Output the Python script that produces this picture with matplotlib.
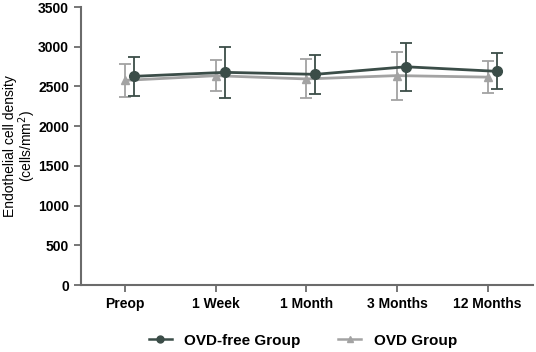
import matplotlib
matplotlib.use("Agg")
import matplotlib.pyplot as plt
from matplotlib.lines import Line2D
import numpy as np

categories = ["Preop", "1 Week", "1 Month", "3 Months", "12 Months"]
ovd_free_mean = [2628, 2678, 2653, 2748, 2691]
ovd_free_sd = [242, 321, 246, 299, 226]
ovd_mean = [2577, 2636, 2595, 2637, 2618]
ovd_sd = [212, 195, 246, 301, 198]

plt.rcParams['font.family'] = ['Liberation Sans', 'DejaVu Sans']

dark = "#3b4d48"
gray = "#a3a3a3"
axis_col = "#6b6b6b"

fig = plt.figure(figsize=(5.36, 3.52), dpi=100)
ax = fig.add_axes([0.151, 0.190, 0.843, 0.790])

x = np.arange(len(categories))
ax.errorbar(x, ovd_mean, yerr=ovd_sd, color=gray, marker="^", markersize=6,
            linewidth=2, elinewidth=1.3, capsize=4, capthick=1.3, zorder=2)
ax.errorbar(x + 0.1, ovd_free_mean, yerr=ovd_free_sd, color=dark, marker="o",
            markersize=7, linewidth=2, elinewidth=1.3, capsize=4, capthick=1.3,
            zorder=3)

ax.set_xlim(-0.49, 4.5)
ax.set_ylim(0, 3500)
ax.set_yticks(range(0, 3501, 500))
ax.set_xticks(x)
ax.set_xticklabels(categories, fontweight="bold", fontsize=10)
for lab in ax.get_yticklabels():
    lab.set_fontweight("bold")
    lab.set_fontsize(10)

for s in ["top", "right"]:
    ax.spines[s].set_visible(False)
for s in ["left", "bottom"]:
    ax.spines[s].set_color(axis_col)
    ax.spines[s].set_linewidth(1.5)
ax.tick_params(axis="both", colors=axis_col, width=1.3, length=5, labelcolor="black")

fig.text(0.019, 0.585, "Endothelial cell density", fontsize=10,
         rotation=90, ha="center", va="center")
fig.text(0.050, 0.585, "(cells/mm$^2$)", fontsize=10,
         rotation=90, ha="center", va="center")

handles = [Line2D([], [], color=dark, marker="o", markersize=5, linewidth=1.8),
           Line2D([], [], color=gray, marker="^", markersize=5, linewidth=1.8)]
labels = ["OVD-free Group", "OVD Group"]
fig.legend(handles, labels, loc="center", bbox_to_anchor=(0.565, 0.032), ncol=2,
           frameon=False, prop={"weight": "bold", "size": 11}, handlelength=1.5,
           columnspacing=2.5)

fig.savefig("out.png", dpi=100)
